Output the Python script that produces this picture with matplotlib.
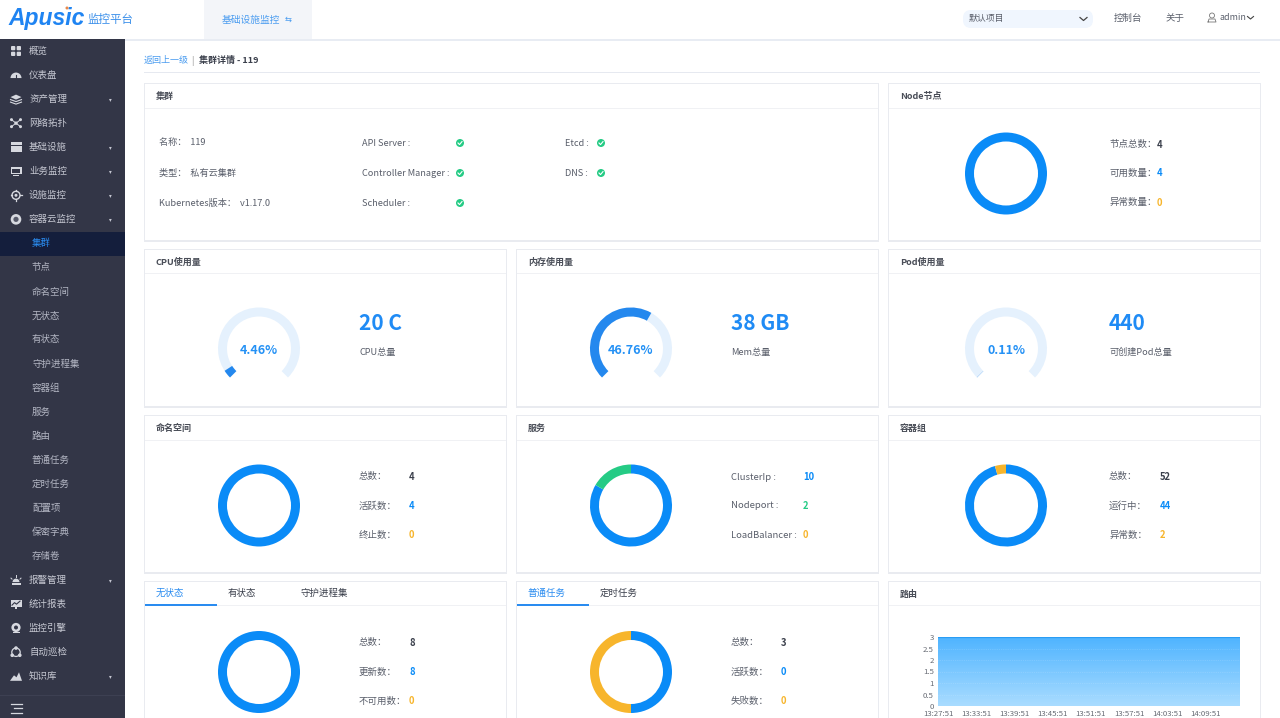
import numpy as np
import matplotlib
matplotlib.use('Agg')
import matplotlib.pyplot as plt
from matplotlib.patches import Rectangle, FancyBboxPatch, Circle, Polygon, Wedge

plt.rcParams['font.family'] = ['Noto Sans CJK SC', 'DejaVu Sans']

BLUE = '#0a8bf7'; GREEN = '#25cb85'; ORANGE = '#f7b52c'; TRACK = '#e5f1fd'; GAUGE = '#2488ee'
DARK = '#3a3f4b'; GREY = '#5a5f6b'; SIDE = '#333647'; ICON = '#d6d8df'

menu_items = ['概览', '仪表盘', '资产管理', '网络拓扑', '基础设施', '业务监控', '设施监控', '容器云监控']
sub_items = ['集群', '节点', '命名空间', '无状态', '有状态', '守护进程集', '容器组', '服务', '路由',
             '普通任务', '定时任务', '配置项', '保密字典', '存储卷']
menu_tail = ['报警管理', '统计报表', '监控引擎', '自动巡检', '知识库']
menu_arrow = {'资产管理', '基础设施', '业务监控', '设施监控', '容器云监控', '报警管理', '知识库'}

node_values = [4, 0]
namespace_values = [4, 0]
service_values = [10, 2, 0]
pod_group_values = [44, 2]
stateless_values = [8, 0]
job_values = [1.5, 1.5]
gauge_fill = {'cpu': 4.46, 'mem': 61.0, 'pod': 0.11}
route_times = ['13:27:51', '13:33:51', '13:39:51', '13:45:51', '13:51:51', '13:57:51', '14:03:51', '14:09:51']
route_values = [3, 3, 3, 3, 3, 3, 3, 3, 3]
route_x = [0, 6, 12, 18, 24, 30, 36, 42, 47.4]
route_yticks = [0, 0.5, 1, 1.5, 2, 2.5, 3]
route_ylabels = ['0', '0.5', '1', '1.5', '2', '2.5', '3']

W, H = 1280, 718
fig = plt.figure(figsize=(12.8, 7.18), dpi=100, facecolor='white')
bg = fig.add_axes([0, 0, 1, 1]); bg.set_xlim(0, W); bg.set_ylim(H, 0); bg.axis('off')

def T(x, y, s, size=6.8, color=GREY, ha='left', weight='normal', **kw):
    bg.text(x, y, s, fontsize=size, color=color, ha=ha, va='center', fontweight=weight, **kw)

def R(x0, y0, x1, y1, color, z=1, **kw):
    bg.add_patch(Rectangle((x0, y0), x1 - x0, y1 - y0, facecolor=color, edgecolor='none', zorder=z, **kw))

# header
R(0, 39, W, 41, '#e8ecf3')
R(204, 0, 312, 39, '#f3f5f9')
T(8, 19, 'Apusic', 16.5, '#1f84f2', weight='bold', style='italic', family=['Liberation Sans'])
bg.add_patch(Circle((67, 8), 1.5, facecolor='#e8894a', edgecolor='none', zorder=3))
T(88, 19.5, '监控平台', 8.3, '#3a8fea', weight='medium')
T(222, 19.5, '基础设施监控', 7, '#4a9cf0')
T(285, 19.5, '⇆', 6, '#4a9cf0', family=['DejaVu Sans'])
bg.add_patch(FancyBboxPatch((963, 10), 130, 18, boxstyle='round,pad=0,rounding_size=8', facecolor='#f0f6fe', edgecolor='none'))
bg.plot([1080, 1083.5, 1087], [17.5, 20.5, 17.5], color='#444', lw=0.9)
T(969, 19, '默认项目', 6.4, GREY)
T(1114, 18.5, '控制台', 6.8, GREY)
T(1166, 18.5, '关于', 6.8, GREY)
bg.add_patch(Circle((1212, 15.5), 2.5, facecolor='none', edgecolor='#777', lw=0.6))
bg.plot([1208, 1209, 1215, 1216, 1208], [22, 19, 19, 22, 22], color='#777', lw=0.6)
T(1219, 17.5, 'admin', 6.4, GREY)
bg.plot([1247.5, 1250.5, 1253.5], [16.5, 19, 16.5], color='#444', lw=0.8)

# sidebar
R(0, 39, 125, H, SIDE, z=2)
R(0, 232, 125, 255.5, '#141e3c', z=2)
R(0, 695, 125, 696, '#3d4052', z=2)

def icon(kind, cx, y):
    z = 3
    add = bg.add_patch
    if kind == 'grid':
        for dx in (-5, 0.7):
            for dy in (-5, 0.7):
                add(FancyBboxPatch((cx + dx, y + dy), 4.3, 4.3, boxstyle='round,pad=0,rounding_size=1', fc=ICON, ec='none', zorder=z))
    elif kind == 'gauge':
        add(Wedge((cx, y + 3), 5.5, 180, 360, fc=ICON, ec='none', zorder=z))
        bg.plot([cx, cx], [y + 3, y - 0.5], color=SIDE, lw=0.8, zorder=z + 1)
    elif kind == 'stack':
        add(Polygon([(cx - 5.5, y - 2), (cx, y - 4.5), (cx + 5.5, y - 2), (cx, y + 0.5)], fc=ICON, ec='none', zorder=z))
        for d in (1, 3.5):
            bg.plot([cx - 5.5, cx, cx + 5.5], [y + d - 0.5, y + d + 1.5, y + d - 0.5], color=ICON, lw=0.8, zorder=z)
    elif kind == 'net':
        for dx, dy in [(-4.5, -3.5), (4.5, -3.5), (-4.5, 3.5), (4.5, 3.5)]:
            bg.plot([cx, cx + dx], [y, y + dy], color=ICON, lw=0.7, zorder=z)
            add(Circle((cx + dx, y + dy), 1.5, fc=ICON, ec='none', zorder=z))
        add(Circle((cx, y), 1.7, fc=ICON, ec='none', zorder=z))
    elif kind == 'server':
        for dy in (-5, -1.5, 2):
            R(cx - 5.5, y + dy, cx + 5.5, y + dy + 2.8, ICON, z=z)
    elif kind == 'monitor':
        R(cx - 5.5, y - 4.5, cx + 5.5, y + 3, ICON, z=z)
        R(cx - 4, y - 2, cx + 4, y + 1.5, SIDE, z=z + .1)
        R(cx - 3, y + 3.5, cx + 3, y + 4.5, ICON, z=z)
    elif kind == 'target':
        add(Circle((cx, y), 4, fc='none', ec=ICON, lw=1, zorder=z))
        add(Circle((cx, y), 1.5, fc=ICON, ec='none', zorder=z))
        for dx, dy in [(-5.5, 0), (5.5, 0), (0, -5.5), (0, 5.5)]:
            bg.plot([cx + dx, cx + dx * .75], [y + dy, y + dy * .75], color=ICON, lw=0.9, zorder=z)
    elif kind == 'gear':
        add(Circle((cx, y), 5.3, fc=ICON, ec='none', zorder=z))
        add(Circle((cx, y), 2.6, fc='#555868', ec='none', zorder=z + .1))
    elif kind == 'alarm':
        add(Wedge((cx, y + 2), 3.5, 180, 360, fc=ICON, ec='none', zorder=z))
        R(cx - 4.5, y + 3, cx + 4.5, y + 4.8, ICON, z=z)
        for dx, dy in [(-5, -2), (5, -2), (0, -5)]:
            bg.plot([cx + dx, cx + dx * .8], [y + dy, y + dy * .8 + .6], color=ICON, lw=0.7, zorder=z)
    elif kind == 'chart':
        R(cx - 5.5, y - 4.5, cx + 5.5, y + 3, ICON, z=z)
        bg.plot([cx - 4, cx - 1.5, cx + .5, cx + 4], [y + 1, y - 1.5, y, y - 3], color=SIDE, lw=0.8, zorder=z + .1)
        R(cx - 1, y + 3, cx + 1, y + 5, ICON, z=z)
    elif kind == 'cam':
        add(Circle((cx, y - 0.7), 4.6, fc=ICON, ec='none', zorder=z))
        add(Circle((cx, y - 0.7), 2, fc=SIDE, ec='none', zorder=z + .1))
        R(cx - 3.5, y + 4, cx + 3.5, y + 5.2, ICON, z=z)
    elif kind == 'cycle':
        add(Circle((cx, y), 4.2, fc='none', ec=ICON, lw=0.9, zorder=z))
        for dx, dy in [(0, -4.2), (-3.8, 3), (3.8, 3)]:
            add(Circle((cx + dx, y + dy), 1.8, fc=ICON, ec='none', zorder=z))
    elif kind == 'peak':
        add(Polygon([(cx - 6, y + 4.5), (cx - 2, y - 1), (cx + 0.5, y + 1), (cx + 3, y - 4), (cx + 6, y + 4.5)], fc=ICON, ec='none', zorder=z))

menu_icons = ['grid', 'gauge', 'stack', 'net', 'server', 'monitor', 'target', 'gear']
tail_icons = ['alarm', 'chart', 'cam', 'cycle', 'peak']

def menu(y, s, kind):
    icon(kind, 16, y)
    bg.text(29, y + 0.3, s, fontsize=6.8, color='#c6c8d2', va='center', zorder=4, fontweight='medium')
    if s in menu_arrow:
        bg.text(110.5, y + 0.5, '▾', fontsize=4, color='#c6c8d2', va='center', ha='center', zorder=4, family=['DejaVu Sans'])

y = 51
for s, k in zip(menu_items, menu_icons):
    menu(y, s, k); y += 24.05
for i, s in enumerate(sub_items):
    bg.text(32, y + 0.3, s, fontsize=6.8, va='center', zorder=4, color='#2a8cf0' if i == 0 else '#b4b7c4')
    y += 24.05
for s, k in zip(menu_tail, tail_icons):
    menu(y, s, k); y += 24.05
for yy, x0 in ((703.5, 11), (708, 14), (712.5, 11)):
    bg.plot([x0, 21.5], [yy, yy], color=ICON, lw=0.9, zorder=4)

# breadcrumb
T(144, 60.5, '返回上一级', 6.5, '#4a9cf0')
T(191, 60.5, '|', 6.5, '#999')
T(199, 60.5, '集群详情 - 119', 6.5, DARK, weight='bold')
R(144, 72, 1260, 73, '#e6e9f0')

def panel(x0, y0, x1, y1, title, hy):
    R(x0 - 1, y0 - 1, x1 + 1, y1 + 2, '#e9ebf0', z=1)
    R(x0, y0, x1, y1, 'white', z=1.1)
    R(x0, hy, x1, hy + 1, '#f0f1f4', z=1.2)
    if title:
        T(x0 + 11, (y0 + hy) / 2 + 0.5, title, 6.5, '#4a4e58', weight='bold')

panel(145, 84, 878, 240, '集群', 108)
panel(889, 84, 1260, 240, 'Node节点', 108)
panel(145, 250, 506, 406, 'CPU使用量', 273)
panel(517, 250, 878, 406, '内存使用量', 273)
panel(889, 250, 1260, 406, 'Pod使用量', 273)
panel(145, 416, 506, 572, '命名空间', 440)
panel(517, 416, 878, 572, '服务', 440)
panel(889, 416, 1260, 572, '容器组', 440)
panel(145, 582, 506, 730, '', 605)
panel(517, 582, 878, 730, '', 605)
panel(889, 582, 1260, 730, '路由', 605)

# tabs
T(156, 593, '无状态', 6.8, '#2a8cf0'); R(145, 604, 217, 605.5, '#2a8cf0', z=2)
T(228, 593, '有状态', 6.8, DARK); T(300, 593, '守护进程集', 6.8, DARK)
T(528, 593, '普通任务', 6.8, '#2a8cf0'); R(517, 604, 589, 605.5, '#2a8cf0', z=2)
T(600, 593, '定时任务', 6.8, DARK)

# cluster info
for x, yy, s in [(159, 143, '名称：  119'), (159, 173, '类型：  私有云集群'), (159, 203, 'Kubernetes版本：  v1.17.0'),
                 (362, 143, 'API Server :'), (362, 173, 'Controller Manager :'), (362, 203, 'Scheduler :'),
                 (565, 143, 'Etcd :'), (565, 173, 'DNS :')]:
    T(x, yy, s, 6.6)
for x, yy in [(460, 143), (460, 173), (460, 203), (601, 143), (601, 173)]:
    bg.add_patch(Circle((x, yy), 4, facecolor=GREEN, edgecolor='none', zorder=3))
    bg.plot([x - 2, x - 0.5, x + 2], [yy, yy + 1.6, yy - 1.4], color='white', lw=0.8, zorder=4)

def pix_ax(cx, cy, r):
    ax = fig.add_axes([(cx - r) / W, 1 - (cy + r) / H, 2 * r / W, 2 * r / H])
    ax.set_xlim(-1, 1); ax.set_ylim(-1, 1); ax.set_aspect('equal'); ax.axis('off')
    return ax

def donut(cx, cy, values, colors):
    ax = pix_ax(cx, cy, 42)
    ax.pie(values, colors=colors, startangle=90, counterclock=False, radius=41 / 42,
           wedgeprops=dict(width=9 / 42, linewidth=0))
    ax.set_xlim(-1, 1); ax.set_ylim(-1, 1)

def gauge(cx, cy, pct):
    ax = pix_ax(cx, cy, 42)
    ax.pie([75, 25], colors=[TRACK, 'none'], startangle=225, counterclock=False, radius=41 / 42,
           wedgeprops=dict(width=9 / 42, linewidth=0))
    ax.pie([pct * .75, 100 - pct * .75], colors=[GAUGE, 'none'], startangle=225, counterclock=False, radius=41 / 42,
           wedgeprops=dict(width=9 / 42, linewidth=0))
    ax.set_xlim(-1, 1); ax.set_ylim(-1, 1)

donut(1006, 173.5, node_values, [BLUE, ORANGE])
donut(259, 505.5, namespace_values, [BLUE, ORANGE])
donut(631, 505.5, service_values, [BLUE, GREEN, ORANGE])
donut(1006, 505.5, pod_group_values, [BLUE, ORANGE])
donut(259, 672, stateless_values, [BLUE, ORANGE])
donut(631, 672, job_values, [BLUE, ORANGE])
gauge(259, 348.5, gauge_fill['cpu'])
gauge(631, 348.5, gauge_fill['mem'])
gauge(1006, 348.5, gauge_fill['pod'])
for x, s in [(259, '4.46%'), (631, '46.76%'), (1006, '0.11%')]:
    T(x, 350, s, 9, '#2491f5', ha='center', weight='bold')
for x, s, l in [(359, '20 C', 'CPU总量'), (731, '38 GB', 'Mem总量'), (1109, '440', '可创建Pod总量')]:
    T(x, 323.5, s, 15, '#1f8bf5', weight='bold')
    T(x, 352, l, 6.6)

def stats(xl, xv, rows):
    for yy, lab, val, col in rows:
        T(xl, yy, lab, 6.8)
        T(xv, yy, val, 6.8, col, weight='bold')

stats(1109, 1157, [(144.5, '节点总数：', '4', DARK), (173.5, '可用数量：', '4', BLUE), (202.5, '异常数量：', '0', ORANGE)])
stats(359, 409, [(477, '总数：', '4', DARK), (506, '活跃数：', '4', BLUE), (535, '终止数：', '0', ORANGE)])
stats(731, 803, [(477, 'ClusterIp :', '10', BLUE), (506, 'Nodeport :', '2', GREEN), (535, 'LoadBalancer :', '0', ORANGE)])
stats(1109, 1160, [(477, '总数：', '52', DARK), (506, '运行中：', '44', BLUE), (535, '异常数：', '2', ORANGE)])
stats(359, 409, [(643, '总数：', '8', DARK), (672, '更新数：', '8', BLUE), (701, '不可用数：', '0', ORANGE)])
stats(731, 781, [(643, '总数：', '3', DARK), (672, '活跃数：', '0', BLUE), (701, '失败数：', '0', ORANGE)])

# route area chart
ax = fig.add_axes([938 / W, 1 - 706 / H, 302 / W, 69 / H], zorder=3)
ax.patch.set_alpha(0)
top = max(route_yticks)
grad = np.linspace(0, 1, 100)[:, None]
cmap = matplotlib.colors.LinearSegmentedColormap.from_list('a', ['#4fb4ff', '#a9dcff'])
im = ax.imshow(grad, cmap=cmap, extent=[route_x[0], route_x[-1], 0, top], aspect='auto', origin='upper', zorder=1)
poly = ax.fill_between(route_x, route_values, 0, color='none')
im.set_clip_path(poly.get_paths()[0], transform=ax.transData)
ax.plot(route_x, route_values, color='#2a9df4', lw=1.6, zorder=3)
ax.set_xlim(route_x[0], route_x[-1]); ax.set_ylim(0, top)
ax.set_yticks(route_yticks, route_ylabels)
ax.set_xticks(route_x[:len(route_times)], route_times)
ax.tick_params(length=0, labelsize=5.6, labelcolor='#666a73', pad=3)
ax.grid(axis='y', color='white', alpha=.25, lw=0.5, ls=':')
for s in ax.spines.values():
    s.set_visible(False)

fig.savefig('out.png', dpi=100)
